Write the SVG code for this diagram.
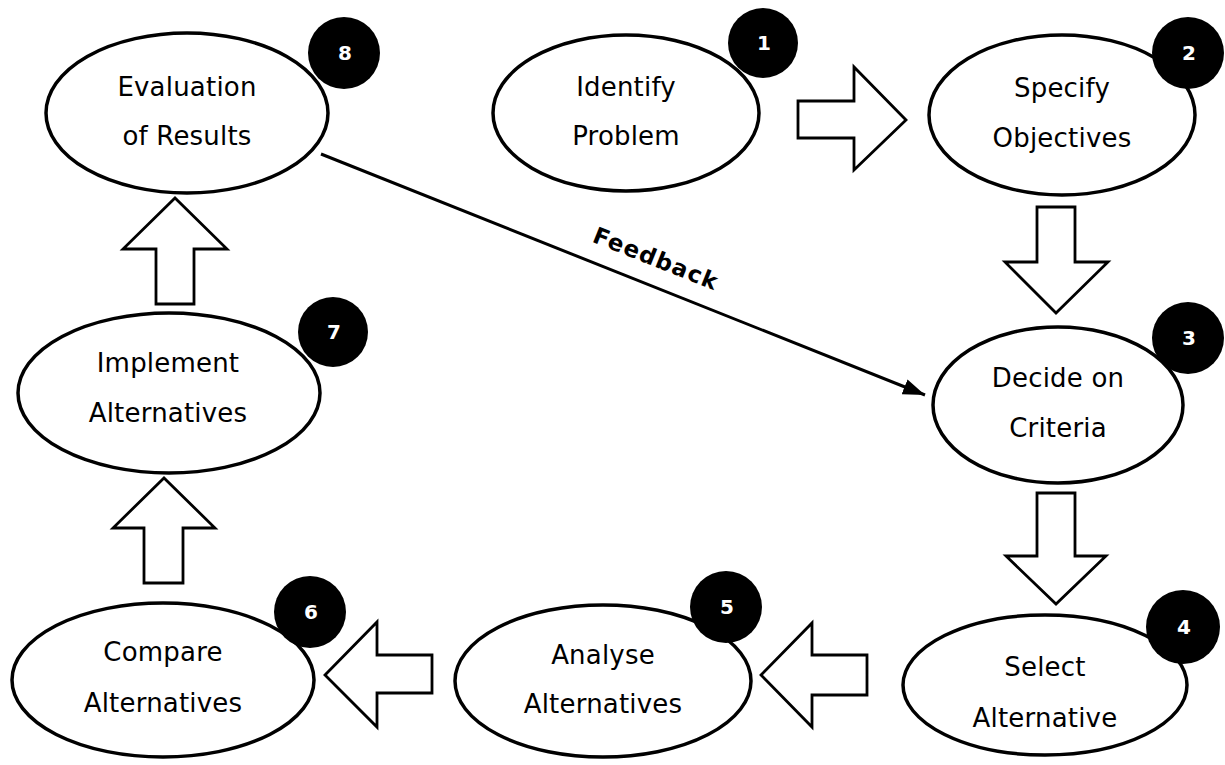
<svg xmlns="http://www.w3.org/2000/svg" width="1225" height="765" viewBox="0 0 1225 765">
<style>
.node ellipse{fill:#fff;stroke:#000;stroke-width:3.5}
.badge{fill:#000}
.num{fill:#fff;font-family:"DejaVu Sans",Verdana,sans-serif;font-weight:bold;font-size:20px;text-anchor:middle}
.lbl{fill:#000;font-family:"DejaVu Sans",Verdana,sans-serif;font-size:26px;letter-spacing:0.2px;text-anchor:middle}
.blk{fill:#fff;stroke:#000;stroke-width:2.8;stroke-linejoin:miter}
.fb{fill:#000;font-family:"DejaVu Sans",Verdana,sans-serif;font-weight:bold;font-size:23px;letter-spacing:1.2px;text-anchor:middle}
</style>
<defs>
<marker id="ah" viewBox="0 0 22 16" refX="22" refY="8" markerWidth="22" markerHeight="16" markerUnits="userSpaceOnUse" orient="auto">
<path d="M0,0 L22,8 L0,16 z" fill="#000"/>
</marker>
</defs>
<rect width="1225" height="765" fill="#fff"/>
<g id="connectors">
<polygon class="blk" points="798,101 854,101 854,67 906,120 854,170 854,138 798,138"/>
<polygon class="blk" points="1037,207 1075,207 1075,262 1108,262 1056,313 1005,262 1037,262"/>
<polygon class="blk" points="1037,493 1075,493 1075,556 1106,556 1056,604 1006,556 1037,556"/>
<polygon class="blk" points="867,655 867,695 812,695 812,727 761,675 812,623 812,655"/>
<polygon class="blk" points="432,655 432,693 377,693 377,727 325,675 377,622 377,655"/>
<polygon class="blk" points="144,583 183,583 183,528 215,528 164,478 113,528 144,528"/>
<polygon class="blk" points="156,304 194,304 194,249 227,249 175,198 123,249 156,249"/>
<line x1="321" y1="154" x2="925" y2="395" stroke="#000" stroke-width="3" marker-end="url(#ah)"/>
<text class="fb" transform="translate(653,266) rotate(21.7)">Feedback</text>
</g>
<g id="n1" class="node">
<ellipse cx="626" cy="113" rx="133" ry="78"/>
<text class="lbl" x="626" y="96">Identify</text>
<text class="lbl" x="626" y="145">Problem</text>
<circle class="badge" cx="763" cy="43" r="35"/>
<text class="num" x="764" y="50">1</text>
</g>
<g id="n2" class="node">
<ellipse cx="1062" cy="115" rx="133" ry="80"/>
<text class="lbl" x="1062" y="97">Specify</text>
<text class="lbl" x="1062" y="147">Objectives</text>
<circle class="badge" cx="1188" cy="53" r="36"/>
<text class="num" x="1189" y="60">2</text>
</g>
<g id="n3" class="node">
<ellipse cx="1058" cy="405" rx="125" ry="78"/>
<text class="lbl" x="1058" y="387">Decide on</text>
<text class="lbl" x="1058" y="437">Criteria</text>
<circle class="badge" cx="1188" cy="338" r="36"/>
<text class="num" x="1189" y="345">3</text>
</g>
<g id="n4" class="node">
<ellipse cx="1045" cy="685" rx="142" ry="70"/>
<text class="lbl" x="1045" y="676">Select</text>
<text class="lbl" x="1045" y="727">Alternative</text>
<circle class="badge" cx="1183" cy="627" r="37"/>
<text class="num" x="1184" y="634">4</text>
</g>
<g id="n5" class="node">
<ellipse cx="603" cy="681" rx="148" ry="76"/>
<text class="lbl" x="603" y="664">Analyse</text>
<text class="lbl" x="603" y="713">Alternatives</text>
<circle class="badge" cx="726" cy="607" r="36"/>
<text class="num" x="727" y="614">5</text>
</g>
<g id="n6" class="node">
<ellipse cx="163" cy="680" rx="151" ry="77"/>
<text class="lbl" x="163" y="661">Compare</text>
<text class="lbl" x="163" y="712">Alternatives</text>
<circle class="badge" cx="310" cy="612" r="36"/>
<text class="num" x="311" y="619">6</text>
</g>
<g id="n7" class="node">
<ellipse cx="169" cy="393" rx="151" ry="80"/>
<text class="lbl" x="168" y="372">Implement</text>
<text class="lbl" x="168" y="422">Alternatives</text>
<circle class="badge" cx="333" cy="332" r="35"/>
<text class="num" x="334" y="339">7</text>
</g>
<g id="n8" class="node">
<ellipse cx="187" cy="113" rx="141" ry="80"/>
<text class="lbl" x="187" y="96">Evaluation</text>
<text class="lbl" x="187" y="145">of Results</text>
<circle class="badge" cx="344" cy="53" r="36"/>
<text class="num" x="345" y="60">8</text>
</g>
</svg>
